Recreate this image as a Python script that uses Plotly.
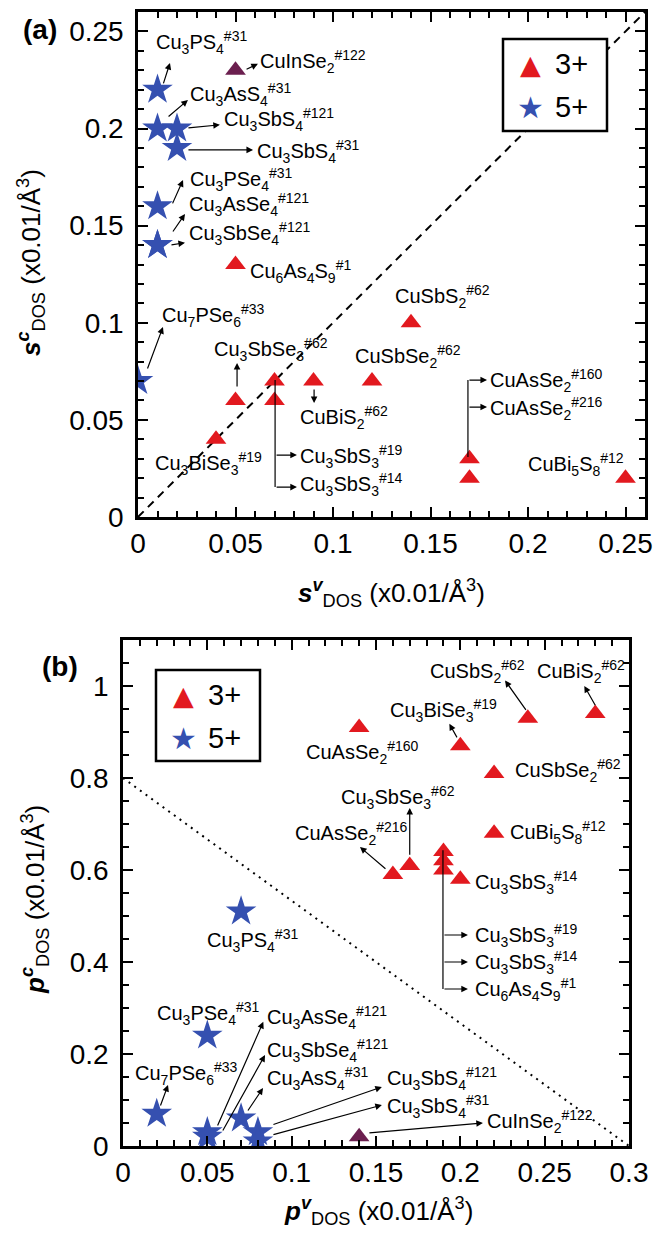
import re
import plotly.graph_objects as go

# ---------------- data: panel (a) s-DOS ----------------
a_tri_names = ["CuSbS2#62", "CuSbSe2#62", "CuBiS2#62", "Cu3SbSe3#62", "Cu3SbS3#19",
               "Cu3SbS3#14", "Cu3BiSe3#19", "CuAsSe2#160", "CuAsSe2#216", "CuBi5S8#12",
               "Cu6As4S9#1"]
a_tri_sv = [0.14, 0.12, 0.09, 0.05, 0.07, 0.07, 0.04, 0.17, 0.17, 0.25, 0.05]
a_tri_sc = [0.10, 0.07, 0.07, 0.06, 0.07, 0.06, 0.04, 0.03, 0.02, 0.02, 0.13]

a_star_names = ["Cu3PS4#31", "Cu3AsS4#31", "Cu3SbS4#121", "Cu3SbS4#31", "Cu3PSe4#31",
                "Cu3AsSe4#121", "Cu3SbSe4#121", "Cu7PSe6#33"]
a_star_sv = [0.01, 0.01, 0.02, 0.02, 0.01, 0.01, 0.01, 0.00]
a_star_sc = [0.22, 0.20, 0.20, 0.19, 0.16, 0.14, 0.14, 0.07]

a_in_names = ["CuInSe2#122"]
a_in_sv = [0.05]
a_in_sc = [0.23]

# ---------------- data: panel (b) p-DOS ----------------
b_tri_names = ["CuSbS2#62", "CuBiS2#62", "Cu3BiSe3#19", "CuAsSe2#160", "CuSbSe2#62",
               "CuBi5S8#12", "Cu3SbSe3#62", "CuAsSe2#216", "Cu3SbS3#14",
               "Cu3SbS3#19", "Cu3SbS3#14", "Cu6As4S9#1"]
b_tri_pv = [0.24, 0.28, 0.20, 0.14, 0.22, 0.22, 0.17, 0.16, 0.20, 0.19, 0.19, 0.19]
b_tri_pc = [0.93, 0.94, 0.87, 0.91, 0.81, 0.68, 0.61, 0.59, 0.58, 0.64, 0.62, 0.60]

b_star_names = ["Cu3PS4#31", "Cu3PSe4#31", "Cu7PSe6#33", "Cu3AsSe4#121", "Cu3SbSe4#121",
                "Cu3AsS4#31", "Cu3SbS4#121", "Cu3SbS4#31"]
b_star_pv = [0.07, 0.05, 0.02, 0.05, 0.05, 0.07, 0.08, 0.08]
b_star_pc = [0.51, 0.24, 0.07, 0.03, 0.02, 0.06, 0.03, 0.01]

b_in_names = ["CuInSe2#122"]
b_in_pv = [0.14]
b_in_pc = [0.02]

# reference lines
a_diag_x = [0.0, 0.26]
a_diag_y = [0.0, 0.26]
b_line_x = [0.0, 0.30]
b_line_y = [0.80, 0.0]

# ticks
a_tickvals = [0, 0.05, 0.1, 0.15, 0.2, 0.25]
a_ticktext = ["0", "0.05", "0.1", "0.15", "0.2", "0.25"]
bx_tickvals = [0, 0.05, 0.1, 0.15, 0.2, 0.25, 0.3]
bx_ticktext = ["0", "0.05", "0.1", "0.15", "0.2", "0.25", "0.3"]
by_tickvals = [0, 0.2, 0.4, 0.6, 0.8, 1.0]
by_ticktext = ["0", "0.2", "0.4", "0.6", "0.8", "1"]

legend_names = ["3+", "5+"]

# ---------------- layout of labels (positions only) ----------------
a_label_pos = [
    ("Cu3PS4#31", 0.0082, 0.2441), ("CuInSe2#122", 0.0615, 0.2343),
    ("Cu3AsS4#31", 0.0256, 0.2173), ("Cu3SbS4#121", 0.0431, 0.2044),
    ("Cu3SbS4#31", 0.0600, 0.1880), ("Cu3PSe4#31", 0.0256, 0.1740),
    ("Cu3AsSe4#121", 0.0251, 0.1610), ("Cu3SbSe4#121", 0.0251, 0.1458),
    ("Cu6As4S9#1", 0.0564, 0.1262), ("Cu7PSe6#33", 0.0113, 0.1040),
    ("Cu3SbSe3#62", 0.0380, 0.0860), ("CuSbS2#62", 0.1308, 0.1133),
    ("CuSbSe2#62", 0.1103, 0.0824), ("CuBiS2#62", 0.0820, 0.0510),
    ("Cu3BiSe3#19", 0.0077, 0.0278), ("Cu3SbS3#19", 0.0820, 0.0309),
    ("Cu3SbS3#14", 0.0820, 0.0165), ("CuAsSe2#160", 0.1795, 0.0705),
    ("CuAsSe2#216", 0.1795, 0.0561), ("CuBi5S8#12", 0.1990, 0.0268),
]
a_arrows = [
    (0.0128, 0.2225, 0.0164, 0.2338), (0.0549, 0.2302, 0.0615, 0.2333),
    (0.0149, 0.2055, 0.0256, 0.2147), (0.0251, 0.2003, 0.0420, 0.2019),
    (0.0251, 0.1890, 0.0590, 0.1890), (0.0174, 0.1607, 0.0231, 0.1735),
    (0.0174, 0.1462, 0.0241, 0.1560), (0.0164, 0.1400, 0.0241, 0.1412),
    (0.0046, 0.0757, 0.0128, 0.0978), (0.0508, 0.0664, 0.0508, 0.0793),
    (0.0903, 0.0664, 0.0903, 0.0587),
    (0.0703, 0.0319, 0.0815, 0.0319), (0.0703, 0.0154, 0.0815, 0.0154),
    (0.1692, 0.0705, 0.1790, 0.0705), (0.1692, 0.0566, 0.1790, 0.0566),
]
a_segments = [(0.0703, 0.0705, 0.0703, 0.0154), (0.1692, 0.0309, 0.1692, 0.0705)]

b_label_pos = [
    ("CuSbS2#62", 0.1808, 1.0326), ("CuBiS2#62", 0.2442, 1.0326),
    ("Cu3BiSe3#19", 0.1571, 0.9478), ("CuAsSe2#160", 0.1073, 0.8565),
    ("CuSbSe2#62", 0.2312, 0.8174), ("Cu3SbSe3#62", 0.1280, 0.7587),
    ("CuAsSe2#216", 0.1008, 0.6783), ("CuBi5S8#12", 0.2282, 0.6826),
    ("Cu3SbS3#14", 0.2075, 0.5739), ("Cu3SbS3#19", 0.2075, 0.4587),
    ("Cu3SbS3#14", 0.2075, 0.4000), ("Cu6As4S9#1", 0.2075, 0.3413),
    ("Cu3PS4#31", 0.0486, 0.4478), ("Cu3PSe4#31", 0.0190, 0.2891),
    ("Cu7PSe6#33", 0.0059, 0.1587), ("Cu3AsSe4#121", 0.0842, 0.2804),
    ("Cu3SbSe4#121", 0.0842, 0.2087), ("Cu3AsS4#31", 0.0842, 0.1478),
    ("Cu3SbS4#121", 0.1553, 0.1478), ("Cu3SbS4#31", 0.1553, 0.0848),
    ("CuInSe2#122", 0.2146, 0.0522),
]
b_arrows = [
    (0.2395, 0.9450, 0.2265, 1.0120), (0.2805, 0.9550, 0.2735, 1.0000),
    (0.1985, 0.8850, 0.1935, 0.9180), (0.1700, 0.6300, 0.1700, 0.7350),
    (0.1565, 0.6000, 0.1405, 0.6500),
    (0.1897, 0.4587, 0.2045, 0.4587), (0.1897, 0.4000, 0.2045, 0.4000),
    (0.1897, 0.3413, 0.2045, 0.3413),
    (0.0219, 0.0848, 0.0267, 0.1326), (0.0557, 0.0413, 0.0832, 0.2700),
    (0.0587, 0.0304, 0.0842, 0.1978), (0.0735, 0.0739, 0.0830, 0.1260),
    (0.0883, 0.0457, 0.1535, 0.1283), (0.0883, 0.0239, 0.1535, 0.0891),
    (0.1452, 0.0283, 0.2134, 0.0500),
]
b_segments = [(0.1897, 0.6430, 0.1897, 0.3413)]

# ---------------- styles ----------------
FONT = "Liberation Sans, Arial, Helvetica, sans-serif"
SYMFONT = "DejaVu Sans, sans-serif"
RED = "#e2191f"
BLUE = "#3550b0"
PURPLE = "#6b1f4f"
TRI_SIZE = 18
STAR_SIZE = 23
LABEL_SIZE = 20
TICK_SIZE = 28
TITLE_SIZE = 26
W, H = 668, 1236


def px(xp):
    return xp / W


def py(yp):
    return 1 - yp / H


def fmt(name):
    formula, tag = name.split("#")
    formula = re.sub(r"(\d+)", r"<sub>\1</sub>", formula)
    return f"{formula}<sup>#{tag}</sup>"


fig = go.Figure()

# panel (a)
fig.add_trace(go.Scatter(x=a_diag_x, y=a_diag_y, mode="lines", xaxis="x", yaxis="y",
                         line=dict(color="black", width=2, dash="8px,6px"), showlegend=False,
                         hoverinfo="skip"))
fig.add_trace(go.Scatter(x=a_tri_sv, y=a_tri_sc, mode="markers", name=legend_names[0],
                         xaxis="x", yaxis="y", text=a_tri_names, showlegend=False,
                         marker=dict(symbol="triangle-up", size=TRI_SIZE, color=RED, line=dict(width=0))))
fig.add_trace(go.Scatter(x=a_star_sv, y=a_star_sc, mode="markers", name=legend_names[1],
                         xaxis="x", yaxis="y", text=a_star_names, showlegend=False,
                         marker=dict(symbol="star", size=STAR_SIZE, color=BLUE, line=dict(width=0))))
fig.add_trace(go.Scatter(x=a_in_sv, y=a_in_sc, mode="markers", xaxis="x", yaxis="y",
                         text=a_in_names, showlegend=False,
                         marker=dict(symbol="triangle-up", size=TRI_SIZE, color=PURPLE, line=dict(width=0))))

# panel (b)
fig.add_trace(go.Scatter(x=b_line_x, y=b_line_y, mode="lines", xaxis="x2", yaxis="y2",
                         line=dict(color="black", width=2, dash="2px,5px"), showlegend=False,
                         hoverinfo="skip"))
fig.add_trace(go.Scatter(x=b_tri_pv, y=b_tri_pc, mode="markers", name=legend_names[0],
                         xaxis="x2", yaxis="y2", text=b_tri_names, showlegend=False,
                         marker=dict(symbol="triangle-up", size=TRI_SIZE, color=RED, line=dict(width=0))))
fig.add_trace(go.Scatter(x=b_star_pv, y=b_star_pc, mode="markers", name=legend_names[1],
                         xaxis="x2", yaxis="y2", text=b_star_names, showlegend=False,
                         marker=dict(symbol="star", size=STAR_SIZE, color=BLUE, line=dict(width=0))))
fig.add_trace(go.Scatter(x=b_in_pv, y=b_in_pc, mode="markers", xaxis="x2", yaxis="y2",
                         text=b_in_names, showlegend=False,
                         marker=dict(symbol="triangle-up", size=TRI_SIZE, color=PURPLE, line=dict(width=0))))

annotations = []
shapes = []


def add_panel(labels, arrows, segments, xr, yr):
    for name, lx, ly in labels:
        annotations.append(dict(x=lx, y=ly, xref=xr, yref=yr, text=fmt(name), showarrow=False,
                                xanchor="left", yanchor="middle",
                                font=dict(family=FONT, size=LABEL_SIZE, color="black")))
    for tx, ty, hx, hy in arrows:
        annotations.append(dict(x=hx, y=hy, ax=tx, ay=ty, xref=xr, yref=yr, axref=xr, ayref=yr,
                                text="", showarrow=True, arrowhead=2, arrowsize=1.1,
                                arrowwidth=1.2, arrowcolor="black"))
    for x0, y0, x1, y1 in segments:
        shapes.append(dict(type="line", xref=xr, yref=yr, x0=x0, y0=y0, x1=x1, y1=y1,
                           line=dict(color="black", width=1.2)))


add_panel(a_label_pos, a_arrows, a_segments, "x", "y")
add_panel(b_label_pos, b_arrows, b_segments, "x2", "y2")


def add_legend(x0, y0, x1, y1):
    shapes.append(dict(type="rect", xref="paper", yref="paper", x0=px(x0), x1=px(x1),
                       y0=py(y1), y1=py(y0), fillcolor="white",
                       line=dict(color="black", width=2.5), layer="above"))
    rows = [(y0 + 25, "▲", RED, 27, legend_names[0]), (y0 + 68, "★", BLUE, 30, legend_names[1])]
    for yc, sym, col, ssz, name in rows:
        annotations.append(dict(x=px(x0 + 27), y=py(yc), xref="paper", yref="paper", text=sym,
                                showarrow=False, xanchor="center", yanchor="middle",
                                font=dict(family=SYMFONT, size=ssz, color=col)))
        annotations.append(dict(x=px(x0 + 50), y=py(yc), xref="paper", yref="paper", text=name,
                                showarrow=False, xanchor="left", yanchor="middle",
                                font=dict(family=FONT, size=29, color="black")))


add_legend(503, 39, 607, 131)
add_legend(156, 670, 260, 761)

title_font = dict(family=FONT, size=TITLE_SIZE, color="black")
annotations += [
    dict(x=px(40), y=py(30), xref="paper", yref="paper", text="<b>(a)</b>", showarrow=False,
         xanchor="center", yanchor="middle", font=dict(family=FONT, size=28, color="black")),
    dict(x=px(60), y=py(666), xref="paper", yref="paper", text="<b>(b)</b>", showarrow=False,
         xanchor="center", yanchor="middle", font=dict(family=FONT, size=28, color="black")),
    dict(x=px(391), y=py(593), xref="paper", yref="paper", showarrow=False, font=title_font,
         xanchor="center", yanchor="middle",
         text="<b><i>s</i></b><sup><b><i>v</i></b></sup><sub>DOS</sub> (x0.01/Å<sup>3</sup>)"),
    dict(x=px(31), y=py(263), xref="paper", yref="paper", showarrow=False, font=title_font,
         xanchor="center", yanchor="middle", textangle=-90,
         text="<b><i>s</i></b><sup><b><i>c</i></b></sup><sub>DOS</sub> (x0.01/Å<sup>3</sup>)"),
    dict(x=px(378), y=py(1211), xref="paper", yref="paper", showarrow=False, font=title_font,
         xanchor="center", yanchor="middle",
         text="<b><i>p</i></b><sup><b><i>v</i></b></sup><sub>DOS</sub> (x0.01/Å<sup>3</sup>)"),
    dict(x=px(35), y=py(900), xref="paper", yref="paper", showarrow=False, font=title_font,
         xanchor="center", yanchor="middle", textangle=-90,
         text="<b><i>p</i></b><sup><b><i>c</i></b></sup><sub>DOS</sub> (x0.01/Å<sup>3</sup>)"),
]


def axis(rng, tv, tt, minor_dtick, domain, anchor, standoff):
    return dict(range=rng, domain=domain, anchor=anchor, automargin=False,
                tickmode="array", tickvals=tv, ticktext=tt,
                ticks="inside", ticklen=10, tickwidth=2, tickcolor="black",
                minor=dict(tickmode="linear", tick0=0, dtick=minor_dtick, ticks="inside",
                           ticklen=6, tickwidth=1.5, tickcolor="black", showgrid=False),
                showline=True, linewidth=2.5, linecolor="black", mirror="allticks",
                showgrid=False, zeroline=False, ticklabelstandoff=standoff,
                tickfont=dict(family=FONT, size=TICK_SIZE, color="black"))


fig.update_layout(
    width=W, height=H, margin=dict(l=0, r=0, t=0, b=0, pad=0, autoexpand=False),
    paper_bgcolor="white", plot_bgcolor="white", showlegend=False,
    font=dict(family=FONT, color="black"),
    xaxis=axis([0, 0.26], a_tickvals, a_ticktext, 0.01, [px(138), px(645)], "y", 0),
    yaxis=axis([0, 0.26], a_tickvals, a_ticktext, 0.01, [py(517), py(12)], "x", 6),
    xaxis2=axis([0, 0.30], bx_tickvals, bx_ticktext, 0.01, [px(123), px(629)], "y2", 0),
    yaxis2=axis([0, 1.10], by_tickvals, by_ticktext, 0.05, [py(1146), py(640)], "x2", 6),
    annotations=annotations,
    shapes=shapes,
)

fig.write_html("out.html", config={"displayModeBar": False},
               post_script="document.body.style.margin='0';")
